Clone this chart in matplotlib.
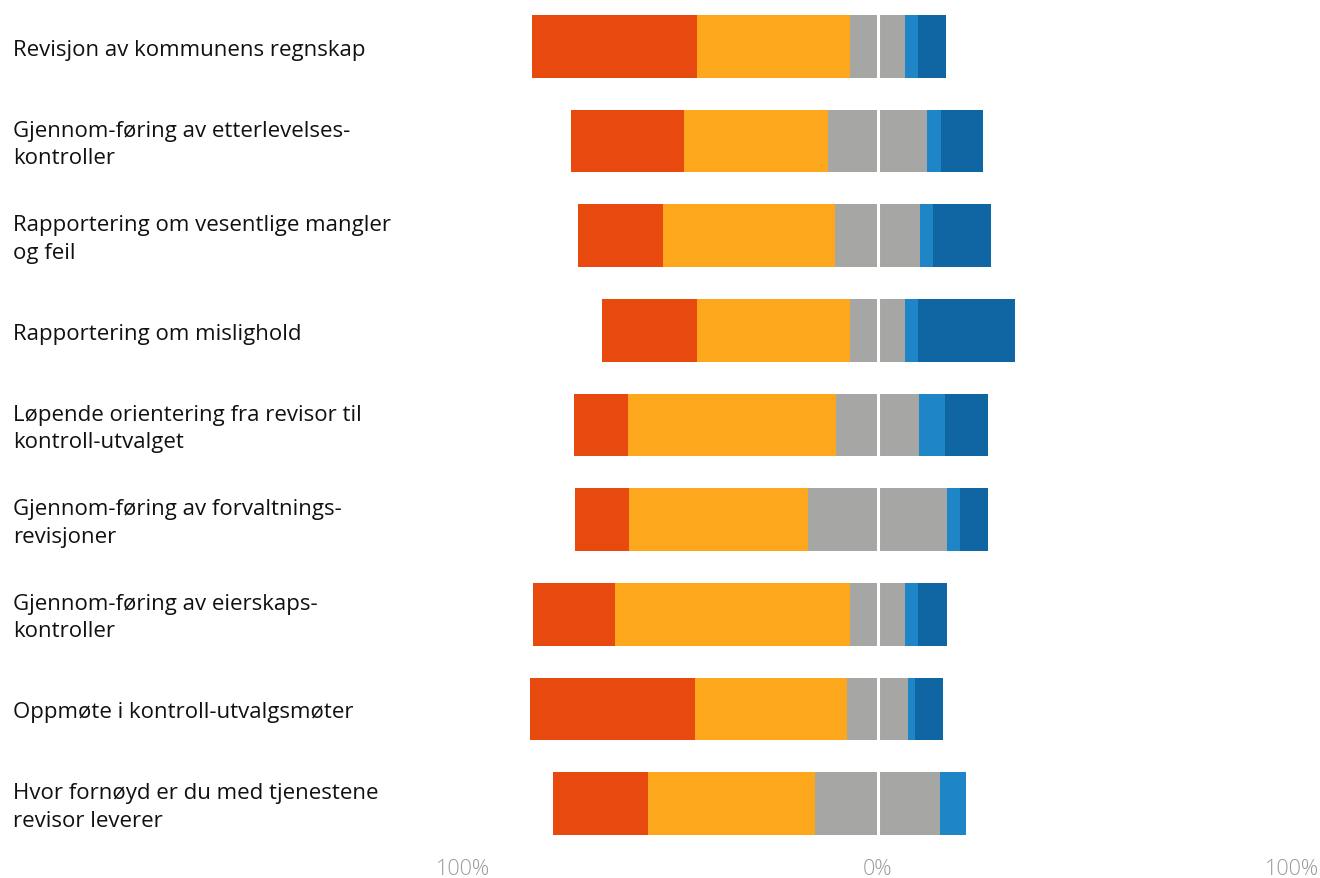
import numpy as np
import matplotlib
matplotlib.use("Agg")
import matplotlib.pyplot as plt
from matplotlib.transforms import blended_transform_factory

plt.rcParams['font.family'] = ['Open Sans', 'DejaVu Sans']

categories = [
    "Revisjon av kommunens regnskap",
    "Gjennom-føring av etterlevelses-\nkontroller",
    "Rapportering om vesentlige mangler\nog feil",
    "Rapportering om mislighold",
    "Løpende orientering fra revisor til\nkontroll-utvalget",
    "Gjennom-føring av forvaltnings-\nrevisjoner",
    "Gjennom-føring av eierskaps-\nkontroller",
    "Oppmøte i kontroll-utvalgsmøter",
    "Hvor fornøyd er du med tjenestene\nrevisor leverer",
]

# percent per answer group, left to right
svaert_fornoyd = [39.6, 27.4, 20.5, 22.9, 13.0, 13.0, 19.9, 39.9, 23.1]
fornoyd = [37.0, 34.7, 41.5, 37.0, 50.2, 43.4, 56.6, 36.7, 40.2]
noytral = [13.3, 23.9, 20.6, 13.3, 19.9, 33.3, 13.3, 14.6, 30.1]
misfornoyd = [3.2, 3.4, 3.1, 3.2, 6.4, 3.2, 3.2, 1.8, 6.2]
svaert_misfornoyd = [6.7, 10.2, 14.0, 23.3, 10.2, 6.7, 6.8, 6.7, 0.0]

series = [svaert_fornoyd, fornoyd, noytral, misfornoyd, svaert_misfornoyd]
colors = ["#e8490e", "#fca71c", "#a6a6a4", "#1e86c6", "#0f66a3"]

tick_values = [-100, 0, 100]
tick_labels = ["100%", "0%", "100%"]

fig = plt.figure(figsize=(13.2, 8.79), dpi=100)
ax = fig.add_axes([463 / 1320, 0, 829 / 1320, 1])

y = np.arange(len(categories))
start = -(np.array(svaert_fornoyd) + np.array(fornoyd) + np.array(noytral) / 2)
left = start.copy()
for vals, c in zip(series, colors):
    vals = np.array(vals)
    ax.barh(y, vals, left=left, height=0.665, color=c, linewidth=0)
    left = left + vals

ax.axvline(0, color="white", lw=2.2, zorder=3)

ax.set_xlim(-100, 100)
ax.set_ylim(8.785, -0.5)
ax.axis("off")

trans = blended_transform_factory(fig.transFigure, ax.transData)
for i, lab in enumerate(categories):
    ax.text(13 / 1320, i + 0.03, lab, transform=trans, ha="left", va="center",
            fontsize=16, color="#111111", linespacing=1.4)

for v, t in zip(tick_values, tick_labels):
    ax.text(v, 8.68, t, ha="center", va="center", fontsize=15.5,
            color="#9a9a9a", fontweight="light")

fig.savefig("out.png", dpi=100)
